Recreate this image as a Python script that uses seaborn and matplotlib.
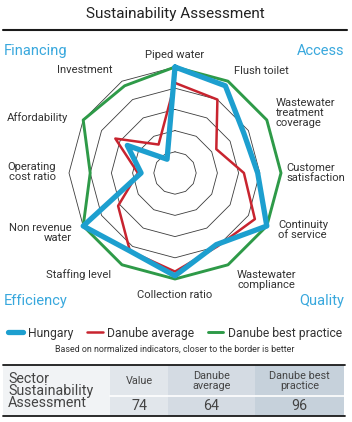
import numpy as np
import matplotlib
matplotlib.use("Agg")
import matplotlib.pyplot as plt
from matplotlib.lines import Line2D
from matplotlib.patches import Rectangle
import seaborn as sns

# --- data (normalized 0..1, 1 = outer border) ---
indicators = ["Piped water", "Flush toilet", "Wastewater\ntreatment\ncoverage",
              "Customer\nsatisfaction", "Continuity\nof service", "Wastewater\ncompliance",
              "Collection ratio", "Staffing level", "Non revenue\nwater",
              "Operating\ncost ratio", "Affordability", "Investment"]
hungary = [1.0, 0.95, 0.75, 0.78, 1.0, 0.78, 0.97, 0.85, 1.0, 0.32, 0.52, 0.15]
danube_avg = [0.85, 0.80, 0.45, 0.65, 0.87, 0.80, 0.93, 0.85, 0.62, 0.35, 0.65, 0.31]
danube_best = [1.0, 1.0, 1.0, 1.0, 1.0, 1.0, 1.0, 1.0, 1.0, 0.80, 1.0, 0.95]
series_names = ["Hungary", "Danube average", "Danube best practice"]
groups = ["Financing", "Access", "Efficiency", "Quality"]
rings = [0.2, 0.4, 0.6, 0.8, 1.0]
table_title = "Sector\nSustainability\nAssessment"
table_cols = ["Value", "Danube\naverage", "Danube best\npractice"]
table_vals = [74, 64, 96]

BLUE, RED, GREEN = "#1d9fcf", "#c8242f", "#2e9a48"
HEAD = "#39a8dd"
TXT = "#333333"
W, H = 352, 422

sns.set_theme(style="white")
plt.rcParams["font.family"] = ["Roboto", "DejaVu Sans"]


def px(x, y):
    return x / W, 1 - y / H


fig = plt.figure(figsize=(W / 100, H / 100), dpi=100)

# polar radar: centre (175,173) px, radius 106 px for r = 1
RMAX = 1.1
rad = 106 * RMAX
cx, cy = px(175, 173)
ax = fig.add_axes([cx - rad / W, cy - rad / H, 2 * rad / W, 2 * rad / H], projection="polar")
ax.set_theta_zero_location("N")
ax.set_theta_direction(-1)
ax.set_ylim(0, RMAX)
ax.grid(False)
ax.spines["polar"].set_visible(False)
ax.set_xticks([])
ax.set_yticks([])
ax.set_facecolor("none")

n = len(indicators)
theta = np.linspace(0, 2 * np.pi, n + 1)
for r in rings:
    ax.plot(theta, [r] * (n + 1), color="#3c3c3c", lw=0.6, zorder=1)


def closed(v):
    return list(v) + [v[0]]


sns.lineplot(x=theta, y=closed(danube_best), sort=False, ax=ax, color=GREEN, lw=2.1, zorder=3)
sns.lineplot(x=theta, y=closed(danube_avg), sort=False, ax=ax, color=RED, lw=1.8, zorder=4)
sns.lineplot(x=theta, y=closed(hungary), sort=False, ax=ax, color=BLUE, lw=3.8, zorder=5)
ax.set_xlabel("")
ax.set_ylabel("")

# axis labels (pixel anchor, alignment)
label_pos = [(175, 55, "center"), (234, 71, "left"), (276, 113, "left"),
             (286, 173, "left"), (278, 230, "left"), (237, 280, "left"),
             (175, 295, "center"), (111, 275, "right"), (72, 233, "right"),
             (56, 172, "right"), (68, 118, "right"), (85, 70, "center")]
for lab, (x, y, ha) in zip(indicators, label_pos):
    fig.text(*px(x, y), lab, ha=ha, va="center", fontsize=8.1, color=TXT,
             linespacing=0.95, multialignment=ha)

# group headers
for g, (x, y, ha) in zip(groups, [(4, 51, "left"), (344, 51, "right"),
                                  (4, 301, "left"), (344, 301, "right")]):
    fig.text(*px(x, y), g, ha=ha, va="center", fontsize=10.5, color=HEAD)

# title + rule
fig.text(*px(175, 14), "Sustainability Assessment", ha="center", va="center",
         fontsize=11, color="#222222")
fig.add_artist(Line2D([3 / W, 347 / W], [px(0, 30)[1]] * 2, color="#1a1a1a", lw=1.5))

# legend
handles = [Line2D([], [], color=BLUE, lw=3.8, solid_capstyle="round"),
           Line2D([], [], color=RED, lw=1.8),
           Line2D([], [], color=GREEN, lw=2.1)]
fig.legend(handles, series_names, loc="center", bbox_to_anchor=px(175, 333), ncol=3,
           frameon=False, fontsize=8.7, handlelength=1.3, handletextpad=0.4,
           columnspacing=1.1, borderpad=0, labelcolor=TXT)
fig.text(*px(175, 349), "Based on normalized indicators, closer to the border is better",
         ha="center", va="center", fontsize=6.4, color=TXT)

# table
tax = fig.add_axes([0, 0, 1, 1])
tax.set_xlim(0, W)
tax.set_ylim(H, 0)
tax.axis("off")
col_edges = [110, 168, 255, 344]
col_bg = ["#e1e6eb", "#d4dbe3", "#c6d1db"]
tax.add_patch(Rectangle((3, 365), 107, 51, color="#f1f3f5", lw=0))
for i, (lab, val) in enumerate(zip(table_cols, table_vals)):
    x0, x1 = col_edges[i], col_edges[i + 1]
    tax.add_patch(Rectangle((x0, 365), x1 - x0, 51, color=col_bg[i], lw=0))
    tax.text((x0 + x1) / 2, 381, lab, ha="center", va="center", fontsize=7.8,
             color="#444444", linespacing=0.9)
    tax.text((x0 + x1) / 2, 406, str(val), ha="center", va="center", fontsize=10.3,
             color="#444444")
tax.plot([110, 344], [395.5, 395.5], color="white", lw=1.2)
tax.plot([3, 345], [365, 365], color="#1a1a1a", lw=1.3)
tax.plot([3, 345], [416, 416], color="#1a1a1a", lw=1.3)
tax.text(8, 391, table_title, ha="left", va="center", fontsize=10.3, color="#444444",
         linespacing=0.85)

fig.savefig("out.png", dpi=100)
